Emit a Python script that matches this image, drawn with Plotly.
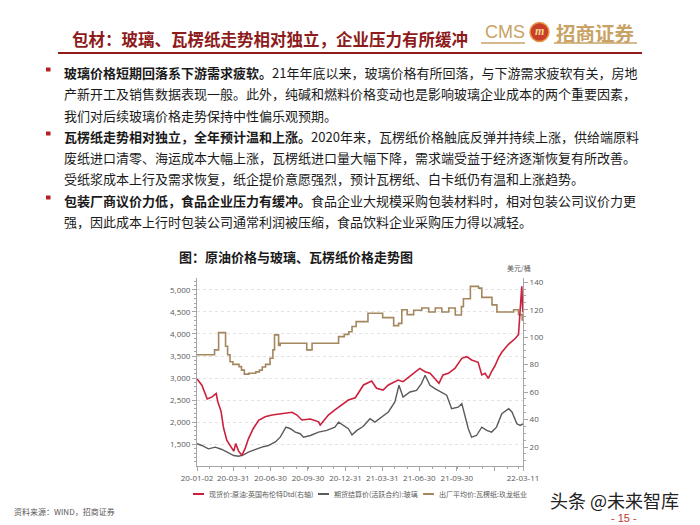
import plotly.graph_objects as go

# ---------------- data ----------------
series_names = ["现货价:原油:英国布伦特Dtd(右轴)", "期货结算价(活跃合约):玻璃", "出厂平均价:瓦楞纸:玖龙纸业"]
series_colors = ["#CC1F3C", "#5B5B5B", "#A5875F"]

paper_dates = ["2020-01-02", "2020-02-14", "2020-02-24", "2020-03-12", "2020-03-17", "2020-03-23",
               "2020-03-30", "2020-04-14", "2020-04-20", "2020-04-27", "2020-05-08", "2020-05-25",
               "2020-06-03", "2020-06-10", "2020-06-18", "2020-06-29", "2020-07-06", "2020-07-10",
               "2020-07-20", "2020-07-24", "2020-09-27", "2020-10-10", "2020-12-14", "2020-12-28",
               "2021-01-08", "2021-01-16", "2021-01-26", "2021-02-24", "2021-04-01", "2021-04-28",
               "2021-05-10", "2021-05-18", "2021-05-31", "2021-06-16", "2021-07-06", "2021-07-23",
               "2021-08-08", "2021-08-24", "2021-09-10", "2021-09-26", "2021-10-11", "2021-10-16",
               "2021-11-02", "2021-11-22", "2021-11-30", "2021-12-25", "2022-01-06", "2022-02-16",
               "2022-02-28", "2022-03-09", "2022-03-11"]
paper_vals = [3530, 3640, 4030, 3720, 3530, 3370,
              3310, 3260, 3180, 3090, 3110, 3140,
              3180, 3250, 3310, 3450, 3640, 3980,
              3740, 3790, 3640, 3790, 3940, 3990,
              4050, 4170, 4280, 4470, 4370, 4190,
              4240, 4550, 4440, 4540, 4590, 4500,
              4590, 4500, 4590, 4430, 4620, 4800,
              5080, 5040, 4830, 4660, 4500, 4550,
              4440, 4320, 4320]

glass_dates = ["2020-01-02", "2020-01-14", "2020-01-30", "2020-02-16", "2020-03-03", "2020-03-19",
               "2020-04-01", "2020-04-13", "2020-04-25", "2020-05-07", "2020-05-24", "2020-06-09",
               "2020-06-25", "2020-07-12", "2020-07-24", "2020-08-01", "2020-08-07", "2020-08-18",
               "2020-08-30", "2020-09-11", "2020-09-19", "2020-10-06", "2020-10-26", "2020-11-15",
               "2020-12-05", "2020-12-14", "2020-12-26", "2021-01-07", "2021-01-16", "2021-01-28",
               "2021-02-12", "2021-03-01", "2021-03-13", "2021-03-29", "2021-04-15", "2021-05-01",
               "2021-05-11", "2021-05-21", "2021-06-07", "2021-06-23", "2021-07-05", "2021-07-14",
               "2021-07-18", "2021-07-26", "2021-08-07", "2021-08-23", "2021-09-05", "2021-09-17",
               "2021-10-03", "2021-10-12", "2021-10-20", "2021-10-28", "2021-11-05", "2021-11-17",
               "2021-11-30", "2021-12-12", "2021-12-24", "2022-01-05", "2022-01-18", "2022-02-04",
               "2022-02-12", "2022-02-24", "2022-03-04", "2022-03-09", "2022-03-11"]
glass_vals = [1510, 1470, 1395, 1432, 1380, 1305,
              1243, 1228, 1259, 1318, 1380, 1432,
              1470, 1550, 1660, 1774, 1887, 1850,
              1774, 1737, 1660, 1697, 1774, 1812,
              1887, 2000, 1925, 1850, 1712, 1812,
              1900, 2078, 2000, 2115, 2230, 2457,
              2837, 2570, 2684, 2720, 2875, 3065,
              3000, 2837, 2760, 2684, 2610, 2306,
              2340, 2420, 2154, 1850, 1660, 1697,
              1887, 1812, 1774, 1887, 2190, 2306,
              2230, 1962, 1925, 1962, 1960]

brent_dates = ["2020-01-02", "2020-01-14", "2020-01-27", "2020-02-08", "2020-02-18", "2020-02-22",
               "2020-03-01", "2020-03-07", "2020-03-15", "2020-03-23", "2020-04-01", "2020-04-06",
               "2020-04-13", "2020-04-21", "2020-04-29", "2020-05-07", "2020-05-19", "2020-06-01",
               "2020-06-17", "2020-07-04", "2020-07-28", "2020-08-22", "2020-09-03", "2020-09-15",
               "2020-10-06", "2020-10-26", "2020-10-30", "2020-11-19", "2020-12-05", "2020-12-22",
               "2021-01-07", "2021-01-24", "2021-02-05", "2021-02-13", "2021-03-05", "2021-03-17",
               "2021-04-02", "2021-04-15", "2021-05-09", "2021-05-21", "2021-06-11", "2021-07-01",
               "2021-07-14", "2021-07-26", "2021-08-03", "2021-08-17", "2021-08-27", "2021-09-09",
               "2021-09-25", "2021-10-12", "2021-10-24", "2021-11-05", "2021-11-21", "2021-11-30",
               "2021-12-08", "2021-12-16", "2021-12-24", "2022-01-01", "2022-01-10", "2022-01-18",
               "2022-02-04", "2022-02-20", "2022-02-28", "2022-03-03", "2022-03-08", "2022-03-10",
               "2022-03-11"]
brent_vals = [69.5, 65.0, 55.0, 56.5, 59.0, 53.0,
              46.0, 34.0, 25.0, 21.5, 17.0, 22.5,
              17.0, 14.0, 19.0, 26.0, 33.5, 39.5,
              42.0, 43.3, 44.5, 45.3, 43.3, 39.7,
              40.4, 38.4, 36.0, 43.3, 47.0, 50.6,
              54.2, 55.9, 61.5, 65.2, 68.1, 62.8,
              61.5, 65.2, 68.8, 67.6, 72.5, 77.3,
              74.9, 73.7, 71.2, 66.4, 72.5, 73.7,
              77.3, 84.6, 85.8, 83.4, 81.7, 72.5,
              73.7, 70.0, 75.0, 79.0, 85.0, 89.0,
              95.0, 99.0, 102.0, 113.0, 137.0, 122.0,
              118.0]

x_tick_vals = ["2020-01-02", "2020-03-31", "2020-06-30", "2020-09-30", "2020-12-31",
               "2021-03-31", "2021-06-30", "2021-09-30", "2021-12-31", "2022-03-11"]
x_tick_text = ["20-01-02", "20-03-31", "20-06-30", "20-09-30", "20-12-31",
               "21-03-31", "21-06-30", "21-09-30", "", "22-03-11"]

title_text = "包材：玻璃、瓦楞纸走势相对独立，企业压力有所缓冲"
body_lines = [
    "<b>玻璃价格短期回落系下游需求疲软。</b>21年年底以来，玻璃价格有所回落，与下游需求疲软有关，房地",
    "产新开工及销售数据表现一般。此外，纯碱和燃料价格变动也是影响玻璃企业成本的两个重要因素，",
    "我们对后续玻璃价格走势保持中性偏乐观预期。",
    "<b>瓦楞纸走势相对独立，全年预计温和上涨。</b>2020年来，瓦楞纸价格触底反弹并持续上涨，供给端原料",
    "废纸进口清零、海运成本大幅上涨，瓦楞纸进口量大幅下降，需求端受益于经济逐渐恢复有所改善。",
    "受纸浆成本上行及需求恢复，纸企提价意愿强烈，预计瓦楞纸、白卡纸仍有温和上涨趋势。",
    "<b>包装厂商议价力低，食品企业压力有缓冲。</b>食品企业大规模采购包装材料时，相对包装公司议价力更",
    "强，因此成本上行时包装公司通常利润被压缩，食品饮料企业采购压力得以减轻。",
]
bullet_line_index = [0, 3, 6]
chart_title = "图：原油价格与玻璃、瓦楞纸价格走势图"
right_unit = "美元/桶"
source_text = "资料来源：WIND，招商证券"

# ---------------- layout helpers ----------------
# the page body has an 8px margin, so the figure is laid out 8px up/left
OFF = 8
W, H = 700 - OFF, 525 - OFF
PL, PR, PT, PB = 197 - OFF, 523 - OFF, 278 - OFF, 466 - OFF


def px(x):
    return (x - OFF - PL) / (PR - PL)


def py(y):
    return (PB - (y - OFF)) / (PB - PT)


FONT = "Noto Sans CJK SC"
TXT = "#1A1A1A"
AX = "#595959"
DARKRED = "#8E1B1B"
GOLD = "#C9A265"

fig = go.Figure()
fig.add_trace(go.Scatter(x=paper_dates, y=paper_vals, name=series_names[2], mode="lines",
                         line=dict(color=series_colors[2], width=1.6, shape="hv"), yaxis="y"))
fig.add_trace(go.Scatter(x=glass_dates, y=glass_vals, name=series_names[1], mode="lines",
                         line=dict(color=series_colors[1], width=1.4), yaxis="y"))
fig.add_trace(go.Scatter(x=brent_dates, y=brent_vals, name=series_names[0], mode="lines",
                         line=dict(color=series_colors[0], width=1.6), yaxis="y2"))

annotations = []
shapes = []


def txt(text, x, y, size, color, family=FONT, xanchor="left"):
    annotations.append(dict(text=text, x=px(x), y=py(y), xref="paper", yref="paper",
                            xanchor=xanchor, yanchor="middle", showarrow=False,
                            font=dict(family=family, size=size, color=color)))


# title + logo
txt("<b>" + title_text + "</b>", 70, 39, 16.5, DARKRED)
txt("CMS", 483, 32, 18, GOLD, family="Liberation Sans")
shapes.append(dict(type="circle", xref="paper", yref="paper", x0=px(530), x1=px(549), y0=py(41.5), y1=py(22.5),
                   fillcolor="#C9402A", line=dict(color="#E59A45", width=1.5), layer="below"))
txt("<b><i>m</i></b>", 539.5, 31, 12, "#F6D58A", family="Liberation Serif", xanchor="center")
txt("<b>招商证券</b>", 554, 32, 19.5, GOLD)
shapes.append(dict(type="line", xref="paper", yref="paper", x0=px(481), x1=px(525), y0=py(43), y1=py(43),
                   line=dict(color=GOLD, width=1.5)))
shapes.append(dict(type="line", xref="paper", yref="paper", x0=px(554), x1=px(637), y0=py(43), y1=py(43),
                   line=dict(color=GOLD, width=1.5)))
shapes.append(dict(type="line", xref="paper", yref="paper", x0=px(58), x1=px(642), y0=py(53), y1=py(53),
                   line=dict(color=DARKRED, width=2)))

# body text
line_y = [72, 93.5, 115, 136, 157, 178.5, 200, 221]
for i, t in enumerate(body_lines):
    txt(t, 62, line_y[i], 13, TXT)
for i in bullet_line_index:
    yc = line_y[i]
    shapes.append(dict(type="rect", xref="paper", yref="paper", x0=px(46), x1=px(50.5),
                       y0=py(yc - 4.5), y1=py(yc - 0.5), fillcolor="#B22222", line=dict(width=0)))

# chart title and unit
txt("<b>" + chart_title + "</b>", 177, 256, 13, TXT)
txt(right_unit, 533, 268, 7, AX, xanchor="right")

# manual legend
leg_x = [193, 318, 423]
for k, i in enumerate([0, 1, 2]):
    x0 = leg_x[k]
    shapes.append(dict(type="line", xref="paper", yref="paper", x0=px(x0), x1=px(x0 + 11),
                       y0=py(494), y1=py(494), line=dict(color=series_colors[i], width=2)))
    txt(series_names[i], x0 + 14, 494, 7, AX)

# footer
txt(source_text, 12, 511, 8, "#595959")
txt("头条 @未来智库", 614, 500, 18, "#222222", xanchor="center")
txt("- 15 -", 624, 518, 11, "#C0392B", family="Liberation Sans", xanchor="center")

fig.update_layout(
    width=W, height=H,
    margin=dict(l=PL, r=W - PR, t=PT, b=H - PB, pad=0),
    paper_bgcolor="white", plot_bgcolor="white",
    showlegend=False,
    font=dict(family=FONT, color=AX, size=8),
    annotations=annotations, shapes=shapes,
    xaxis=dict(type="date", range=["2020-01-02", "2022-03-11"],
               tickmode="array", tickvals=x_tick_vals, ticktext=x_tick_text,
               ticks="outside", ticklen=4, tickcolor="#A6A6A6", tickwidth=1,
               showline=True, linecolor="#A6A6A6", linewidth=1,
               showgrid=False, zeroline=False,
               tickfont=dict(family="Open Sans", size=8, color=AX),
               minor=dict(dtick="M1", tick0="2020-02-01", ticks="outside", ticklen=2,
                          tickcolor="#A6A6A6", showgrid=False)),
    yaxis=dict(range=[1005, 5270], tick0=1500, dtick=500, tickformat=",",
               ticks="outside", ticklen=4, tickcolor="#A6A6A6",
               showline=True, linecolor="#A6A6A6", linewidth=1,
               showgrid=True, gridcolor="#E3E3E3", griddash="dot", gridwidth=1,
               zeroline=False,
               tickfont=dict(family="Open Sans", size=8, color=AX),
               minor=dict(dtick=100, tick0=1000, ticks="outside", ticklen=2,
                          tickcolor="#A6A6A6", showgrid=False)),
    yaxis2=dict(range=[6.2, 143.1], tick0=20, dtick=20, overlaying="y", side="right",
                ticks="outside", ticklen=4, tickcolor="#A6A6A6",
                showline=True, linecolor="#A6A6A6", linewidth=1,
                showgrid=False, zeroline=False,
                tickfont=dict(family="Open Sans", size=8, color=AX),
                minor=dict(dtick=5, tick0=0, ticks="outside", ticklen=2,
                           tickcolor="#A6A6A6", showgrid=False)),
)

fig.write_html("out.html")
